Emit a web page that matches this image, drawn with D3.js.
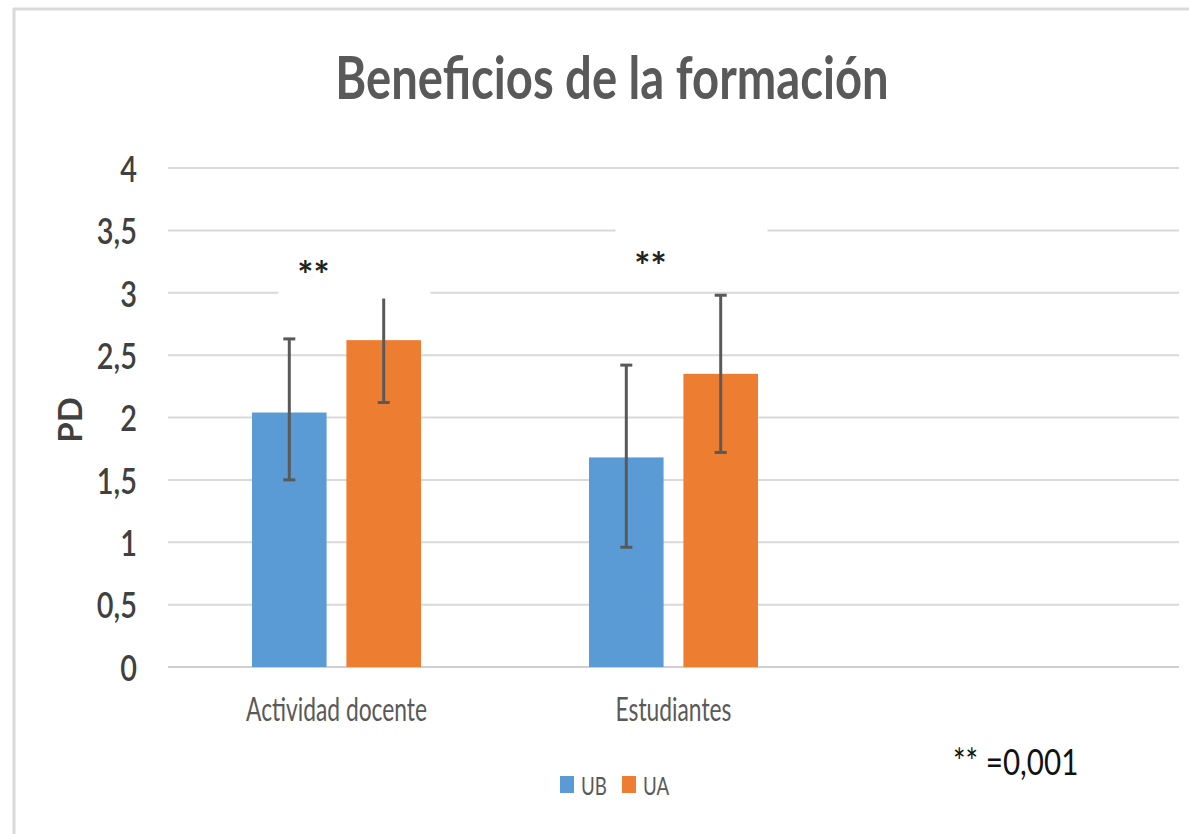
<!DOCTYPE html>
<html>
<head>
<meta charset="utf-8">
<script src="https://cdn.jsdelivr.net/npm/d3@7"></script>
<style>
  body { margin: 0; background: #fff; }
  svg { font-family: Lato, "Open Sans", sans-serif; }
</style>
</head>
<body>
<script>
// chart values
const categories = ["Actividad docente", "Estudiantes", ""];
const series = ["UB", "UA"];
const ubMeans = [2.04, 1.68];
const uaMeans = [2.62, 2.35];
const ubLow = [1.50, 0.96];
const ubHigh = [2.63, 2.42];
const uaLow = [2.12, 1.72];
const uaHigh = [2.98, 2.98];
const yTicks = [0, 0.5, 1, 1.5, 2, 2.5, 3, 3.5, 4];
const sigMarks = [{ cat: "Actividad docente", y: 3.21 }, { cat: "Estudiantes", y: 3.28 }];
const sigNote = "** =0,001";

const colors = { UB: "#5b9bd5", UA: "#ed7d31" };

const width = 1189, height = 834;
const svg = d3.select("body").append("svg")
    .attr("width", width)
    .attr("height", height);

// frame lines (left + top)
svg.append("line").attr("x1", 14).attr("x2", 14).attr("y1", 8).attr("y2", height)
    .attr("stroke", "#d9d9d9").attr("stroke-width", 3);
svg.append("line").attr("x1", 13).attr("x2", width).attr("y1", 9).attr("y2", 9)
    .attr("stroke", "#d9d9d9").attr("stroke-width", 3);

// narrow the glyphs a bit, the original is horizontally compressed
function squeeze(sel, k) {
    sel.each(function() {
        const len = this.getComputedTextLength();
        if (len > 0) d3.select(this).attr("textLength", len * k).attr("lengthAdjust", "spacingAndGlyphs");
    });
}

const x0 = d3.scaleBand().domain(categories).range([168, 1179]).padding(0);
const x1 = d3.scaleBand().domain(series).range([0, x0.bandwidth()]).paddingInner(0.21).paddingOuter(0.89);
const y = d3.scaleLinear().domain([0, 4]).range([667, 168]);

// grid
svg.append("g")
    .selectAll("line")
    .data(yTicks)
    .join("line")
    .attr("x1", 168).attr("x2", 1179)
    .attr("y1", d => y(d)).attr("y2", d => y(d))
    .attr("stroke", d => d === 0 ? "#cfcfcf" : "#d9d9d9")
    .attr("stroke-width", 2);

// y axis labels
const yAxis = svg.append("g")
    .attr("transform", "translate(168,0)")
    .call(d3.axisLeft(y).tickValues(yTicks).tickSize(0).tickPadding(31)
        .tickFormat(d => String(d).replace(".", ",")));
yAxis.select(".domain").remove();
yAxis.selectAll("text")
    .attr("font-family", "Lato, sans-serif")
    .attr("font-size", 37)
    .attr("font-weight", 600)
    .attr("fill", "#404040")
    .attr("dy", "0.36em");
squeeze(yAxis.selectAll("text"), 0.78);

svg.append("text")
    .attr("transform", "translate(82,420) rotate(-90)")
    .attr("text-anchor", "middle")
    .attr("font-size", 33)
    .attr("font-weight", "bold")
    .attr("fill", "#404040")
    .text("PD");

const rows = [];
categories.slice(0, 2).forEach((c, i) => {
    rows.push({ cat: c, s: "UB", v: ubMeans[i], lo: ubLow[i], hi: ubHigh[i] });
    rows.push({ cat: c, s: "UA", v: uaMeans[i], lo: uaLow[i], hi: uaHigh[i] });
});

// bars
svg.append("g")
    .selectAll("rect")
    .data(rows)
    .join("rect")
    .attr("x", d => x0(d.cat) + x1(d.s))
    .attr("width", x1.bandwidth())
    .attr("y", d => y(d.v))
    .attr("height", d => y(0) - y(d.v))
    .attr("fill", d => colors[d.s]);

// error bars
const err = svg.append("g")
    .attr("stroke", "#595959")
    .attr("stroke-width", 3);
const cx = d => x0(d.cat) + x1(d.s) + x1.bandwidth() / 2;
err.selectAll("line.v").data(rows).join("line").attr("class", "v")
    .attr("x1", cx).attr("x2", cx)
    .attr("y1", d => y(d.lo)).attr("y2", d => y(d.hi));
err.selectAll("line.hi").data(rows).join("line").attr("class", "hi")
    .attr("x1", d => cx(d) - 6).attr("x2", d => cx(d) + 6)
    .attr("y1", d => y(d.hi)).attr("y2", d => y(d.hi));
err.selectAll("line.lo").data(rows).join("line").attr("class", "lo")
    .attr("x1", d => cx(d) - 6).attr("x2", d => cx(d) + 6)
    .attr("y1", d => y(d.lo)).attr("y2", d => y(d.lo));

// significance text boxes (white filled, hide grid behind)
const sig = svg.append("g").selectAll("g").data(sigMarks).join("g")
    .attr("transform", d => `translate(${x0(d.cat) + x0.bandwidth() / 2 - 23},${y(d.y)})`);
sig.append("rect")
    .attr("x", -35).attr("y", -30)
    .attr("width", 152).attr("height", 62)
    .attr("fill", "#fff");
sig.append("text")
    .attr("text-anchor", "middle")
    .attr("dy", "0.58em")
    .attr("font-size", 38)
    .attr("font-weight", "bold")
    .attr("fill", "#222")
    .text("**");

// category labels
const catLabels = svg.append("g").selectAll("text")
    .data(categories.filter(c => c))
    .join("text")
    .attr("x", d => x0(d) + x0.bandwidth() / 2)
    .attr("y", 721)
    .attr("text-anchor", "middle")
    .attr("font-size", 33)
    .attr("fill", "#595959")
    .text(d => d);
squeeze(catLabels, 0.69);

// title
const title = svg.append("text")
    .attr("x", 612).attr("y", 99)
    .attr("text-anchor", "middle")
    .attr("font-size", 59)
    .attr("font-weight", "bold")
    .attr("fill", "#595959")
    .text("Beneficios de la formación");
squeeze(title, 0.8);

// legend
const legend = svg.append("g").attr("transform", "translate(560,776)");
const li = legend.selectAll("g").data(series).join("g")
    .attr("transform", (d, i) => `translate(${i * 62},0)`);
li.append("rect").attr("width", 14).attr("height", 17).attr("fill", d => colors[d]);
const lt = li.append("text")
    .attr("x", 21).attr("y", 19)
    .attr("font-size", 25)
    .attr("fill", "#595959")
    .text(d => d);
squeeze(lt, 0.75);

// p-value note
const note = svg.append("text")
    .attr("x", 953).attr("y", 775)
    .attr("font-size", 37)
    .attr("fill", "#111")
    .text(sigNote);
squeeze(note, 0.8);
</script>
</body>
</html>
